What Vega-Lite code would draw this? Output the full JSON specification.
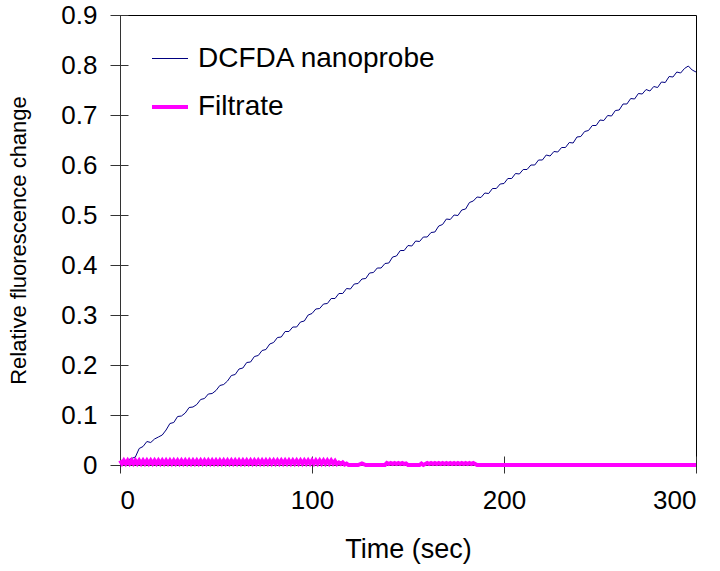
{
  "$schema": "https://vega.github.io/schema/vega-lite/v6.json",
  "width": 576,
  "height": 450,
  "autosize": {"type": "none"},
  "padding": {"left": 120, "top": 15, "right": 24, "bottom": 106},
  "background": "white",
  "config": {
    "view": {"stroke": "black", "strokeWidth": 1},
    "font": "Liberation Sans",
    "axis": {
      "labelFont": "Liberation Sans",
      "titleFont": "Liberation Sans",
      "labelColor": "black",
      "titleColor": "black",
      "titleFontWeight": "normal",
      "domainColor": "#333333",
      "tickColor": "#333333",
      "grid": false
    },
    "legend": {
      "labelFont": "Liberation Sans",
      "labelColor": "black"
    }
  },
  "datasets": {
    "dcfda": [
      {"t":0,"v":0.000},{"t":2,"v":0.004},{"t":4,"v":0.010},{"t":6,"v":0.013},{"t":8,"v":0.016},{"t":10,"v":0.033},{"t":12,"v":0.037},{"t":14,"v":0.047},{"t":16,"v":0.045},{"t":18,"v":0.052},
      {"t":20,"v":0.056},{"t":22,"v":0.060},{"t":24,"v":0.070},{"t":26,"v":0.083},{"t":28,"v":0.085},{"t":30,"v":0.097},{"t":32,"v":0.098},{"t":34,"v":0.104},{"t":36,"v":0.115},{"t":38,"v":0.116},
      {"t":40,"v":0.121},{"t":42,"v":0.131},{"t":44,"v":0.133},{"t":46,"v":0.142},{"t":48,"v":0.143},{"t":50,"v":0.149},{"t":52,"v":0.159},{"t":54,"v":0.161},{"t":56,"v":0.168},{"t":58,"v":0.179},
      {"t":60,"v":0.181},{"t":62,"v":0.192},{"t":64,"v":0.194},{"t":66,"v":0.205},{"t":68,"v":0.206},{"t":70,"v":0.217},{"t":72,"v":0.219},{"t":74,"v":0.229},{"t":76,"v":0.231},{"t":78,"v":0.242},
      {"t":80,"v":0.245},{"t":82,"v":0.255},{"t":84,"v":0.256},{"t":86,"v":0.267},{"t":88,"v":0.267},{"t":90,"v":0.276},{"t":92,"v":0.276},{"t":94,"v":0.286},{"t":96,"v":0.288},{"t":98,"v":0.300},
      {"t":100,"v":0.303},{"t":102,"v":0.312},{"t":104,"v":0.313},{"t":106,"v":0.322},{"t":108,"v":0.323},{"t":110,"v":0.333},{"t":112,"v":0.333},{"t":114,"v":0.343},{"t":116,"v":0.343},{"t":118,"v":0.353},
      {"t":120,"v":0.352},{"t":122,"v":0.362},{"t":124,"v":0.363},{"t":126,"v":0.372},{"t":128,"v":0.373},{"t":130,"v":0.384},{"t":132,"v":0.385},{"t":134,"v":0.394},{"t":136,"v":0.394},{"t":138,"v":0.403},
      {"t":140,"v":0.404},{"t":142,"v":0.416},{"t":144,"v":0.418},{"t":146,"v":0.429},{"t":148,"v":0.429},{"t":150,"v":0.439},{"t":152,"v":0.438},{"t":154,"v":0.448},{"t":156,"v":0.447},{"t":158,"v":0.456},
      {"t":160,"v":0.456},{"t":162,"v":0.465},{"t":164,"v":0.466},{"t":166,"v":0.478},{"t":168,"v":0.481},{"t":170,"v":0.492},{"t":172,"v":0.491},{"t":174,"v":0.500},{"t":176,"v":0.499},{"t":178,"v":0.510},
      {"t":180,"v":0.512},{"t":182,"v":0.525},{"t":184,"v":0.528},{"t":186,"v":0.536},{"t":188,"v":0.535},{"t":190,"v":0.544},{"t":192,"v":0.543},{"t":194,"v":0.553},{"t":196,"v":0.553},{"t":198,"v":0.562},
      {"t":200,"v":0.563},{"t":202,"v":0.573},{"t":204,"v":0.573},{"t":206,"v":0.583},{"t":208,"v":0.582},{"t":210,"v":0.591},{"t":212,"v":0.591},{"t":214,"v":0.600},{"t":216,"v":0.600},{"t":218,"v":0.610},
      {"t":220,"v":0.610},{"t":222,"v":0.620},{"t":224,"v":0.618},{"t":226,"v":0.627},{"t":228,"v":0.626},{"t":230,"v":0.635},{"t":232,"v":0.635},{"t":234,"v":0.645},{"t":236,"v":0.644},{"t":238,"v":0.656},
      {"t":240,"v":0.657},{"t":242,"v":0.667},{"t":244,"v":0.669},{"t":246,"v":0.679},{"t":248,"v":0.679},{"t":250,"v":0.690},{"t":252,"v":0.689},{"t":254,"v":0.699},{"t":256,"v":0.698},{"t":258,"v":0.709},
      {"t":260,"v":0.710},{"t":262,"v":0.722},{"t":264,"v":0.722},{"t":266,"v":0.733},{"t":268,"v":0.732},{"t":270,"v":0.743},{"t":272,"v":0.742},{"t":274,"v":0.751},{"t":276,"v":0.748},{"t":278,"v":0.757},
      {"t":280,"v":0.755},{"t":282,"v":0.766},{"t":284,"v":0.765},{"t":286,"v":0.777},{"t":288,"v":0.776},{"t":290,"v":0.786},{"t":292,"v":0.784},{"t":294,"v":0.793},{"t":296,"v":0.798},{"t":298,"v":0.790},
      {"t":300,"v":0.786}
    ],
    "filtrate": [
      {"t":0,"v":0.009},{"t":1,"v":0.003},{"t":2,"v":0.009},{"t":3,"v":0.003},{"t":4,"v":0.009},{"t":5,"v":0.003},{"t":6,"v":0.009},{"t":7,"v":0.003},{"t":8,"v":0.009},{"t":9,"v":0.003},
      {"t":10,"v":0.009},{"t":11,"v":0.003},{"t":12,"v":0.009},{"t":13,"v":0.003},{"t":14,"v":0.009},{"t":15,"v":0.003},{"t":16,"v":0.009},{"t":17,"v":0.003},{"t":18,"v":0.009},{"t":19,"v":0.003},
      {"t":20,"v":0.009},{"t":21,"v":0.003},{"t":22,"v":0.009},{"t":23,"v":0.003},{"t":24,"v":0.009},{"t":25,"v":0.003},{"t":26,"v":0.009},{"t":27,"v":0.003},{"t":28,"v":0.009},{"t":29,"v":0.003},
      {"t":30,"v":0.009},{"t":31,"v":0.003},{"t":32,"v":0.009},{"t":33,"v":0.003},{"t":34,"v":0.009},{"t":35,"v":0.003},{"t":36,"v":0.009},{"t":37,"v":0.003},{"t":38,"v":0.009},{"t":39,"v":0.003},
      {"t":40,"v":0.009},{"t":41,"v":0.003},{"t":42,"v":0.009},{"t":43,"v":0.003},{"t":44,"v":0.009},{"t":45,"v":0.003},{"t":46,"v":0.009},{"t":47,"v":0.003},{"t":48,"v":0.009},{"t":49,"v":0.003},
      {"t":50,"v":0.009},{"t":51,"v":0.003},{"t":52,"v":0.009},{"t":53,"v":0.003},{"t":54,"v":0.009},{"t":55,"v":0.003},{"t":56,"v":0.009},{"t":57,"v":0.003},{"t":58,"v":0.009},{"t":59,"v":0.003},
      {"t":60,"v":0.009},{"t":61,"v":0.003},{"t":62,"v":0.009},{"t":63,"v":0.003},{"t":64,"v":0.009},{"t":65,"v":0.003},{"t":66,"v":0.009},{"t":67,"v":0.003},{"t":68,"v":0.009},{"t":69,"v":0.003},
      {"t":70,"v":0.009},{"t":71,"v":0.003},{"t":72,"v":0.009},{"t":73,"v":0.003},{"t":74,"v":0.009},{"t":75,"v":0.003},{"t":76,"v":0.009},{"t":77,"v":0.003},{"t":78,"v":0.009},{"t":79,"v":0.003},
      {"t":80,"v":0.009},{"t":81,"v":0.003},{"t":82,"v":0.009},{"t":83,"v":0.003},{"t":84,"v":0.009},{"t":85,"v":0.003},{"t":86,"v":0.009},{"t":87,"v":0.003},{"t":88,"v":0.009},{"t":89,"v":0.003},
      {"t":90,"v":0.009},{"t":91,"v":0.003},{"t":92,"v":0.009},{"t":93,"v":0.003},{"t":94,"v":0.009},{"t":95,"v":0.003},{"t":96,"v":0.009},{"t":97,"v":0.003},{"t":98,"v":0.009},{"t":99,"v":0.003},
      {"t":100,"v":0.009},{"t":101,"v":0.003},{"t":102,"v":0.009},{"t":103,"v":0.003},{"t":104,"v":0.009},{"t":105,"v":0.003},{"t":106,"v":0.009},{"t":107,"v":0.003},{"t":108,"v":0.009},{"t":109,"v":0.003},
      {"t":110,"v":0.009},{"t":111,"v":0.003},{"t":112,"v":0.008},{"t":113,"v":0.002},{"t":114,"v":0.005},{"t":115,"v":0.002},{"t":116,"v":0.005},{"t":117,"v":0.001},{"t":118,"v":0.003},{"t":119,"v":0.000},
      {"t":124,"v":0.000},{"t":126,"v":0.003},{"t":128,"v":0.000},{"t":138,"v":0.000},{"t":139,"v":0.004},{"t":140,"v":0.002},{"t":141,"v":0.004},{"t":142,"v":0.002},{"t":143,"v":0.004},{"t":144,"v":0.002},
      {"t":145,"v":0.004},{"t":146,"v":0.002},{"t":147,"v":0.004},{"t":148,"v":0.002},{"t":149,"v":0.003},{"t":150,"v":0.000},{"t":156,"v":0.000},{"t":157,"v":0.003},{"t":158,"v":0.000},{"t":160,"v":0.004},
      {"t":161,"v":0.002},{"t":162,"v":0.004},{"t":163,"v":0.002},{"t":164,"v":0.004},{"t":165,"v":0.002},{"t":166,"v":0.004},{"t":167,"v":0.002},{"t":168,"v":0.004},{"t":169,"v":0.002},{"t":170,"v":0.004},
      {"t":171,"v":0.002},{"t":172,"v":0.004},{"t":173,"v":0.002},{"t":174,"v":0.004},{"t":175,"v":0.002},{"t":176,"v":0.004},{"t":177,"v":0.002},{"t":178,"v":0.004},{"t":179,"v":0.002},{"t":180,"v":0.004},
      {"t":181,"v":0.002},{"t":182,"v":0.004},{"t":183,"v":0.002},{"t":184,"v":0.004},{"t":186,"v":0.000},{"t":300,"v":0.000}
    ]
  },
  "layer": [
    {
      "data": {"name": "dcfda"},
      "transform": [{"calculate": "'DCFDA nanoprobe'", "as": "s"}],
      "mark": {"type": "line", "strokeWidth": 1, "interpolate": "linear"},
      "encoding": {
        "x": {"field": "t", "type": "quantitative", "scale": {"domain": [0, 300], "nice": false},
          "axis": {"title": "Time (sec)", "values": [0, 100, 200, 300], "tickSize": 8, "labelPadding": 14, "labelFontSize": 26, "titleFontSize": 27, "titlePadding": 23}},
        "y": {"field": "v", "type": "quantitative", "scale": {"domain": [0, 0.9], "nice": false},
          "axis": {"title": "Relative fluorescence change", "values": [0,0.1,0.2,0.3,0.4,0.5,0.6,0.7,0.8,0.9], "format": ".1~f", "tickSize": 10, "labelPadding": 13, "labelFontSize": 26, "titleFontSize": 22, "titlePadding": 30}},
        "color": {"field": "s", "type": "nominal",
          "scale": {"domain": ["DCFDA nanoprobe", "Filtrate"], "range": ["#000080", "#ff00ff"]},
          "legend": {"title": null, "orient": "none", "legendX": 30, "legendY": 25, "labelFontSize": 28, "labelLimit": 500, "symbolType": "stroke", "symbolSize": 1296, "rowPadding": 14, "labelOffset": 8}},
        "strokeWidth": {"field": "s", "type": "nominal",
          "scale": {"domain": ["DCFDA nanoprobe", "Filtrate"], "range": [1, 4]},
          "legend": {"title": null, "orient": "none", "legendX": 30, "legendY": 25, "labelFontSize": 28, "labelLimit": 500, "symbolType": "stroke", "symbolSize": 1296, "rowPadding": 14, "labelOffset": 8}}
      }
    },
    {
      "data": {"name": "filtrate"},
      "transform": [{"calculate": "'Filtrate'", "as": "s"}],
      "mark": {"type": "line", "interpolate": "linear"},
      "encoding": {
        "x": {"field": "t", "type": "quantitative", "axis": null},
        "y": {"field": "v", "type": "quantitative", "axis": null},
        "color": {"field": "s", "type": "nominal"},
        "strokeWidth": {"field": "s", "type": "nominal"}
      }
    },
    {
      "data": {"name": "dcfda"},
      "mark": {"type": "line", "opacity": 0},
      "encoding": {
        "x": {"field": "t", "type": "quantitative",
          "axis": {"orient": "bottom", "offset": -9, "tickSize": 9, "domain": false, "labels": false, "title": null, "values": [0, 100, 200, 300]}},
        "y": {"field": "v", "type": "quantitative",
          "axis": {"orient": "left", "offset": -8, "tickSize": 8, "domain": false, "labels": false, "title": null, "values": [0,0.1,0.2,0.3,0.4,0.5,0.6,0.7,0.8,0.9]}}
      }
    }
  ],
  "resolve": {"axis": {"x": "independent", "y": "independent"}}
}
